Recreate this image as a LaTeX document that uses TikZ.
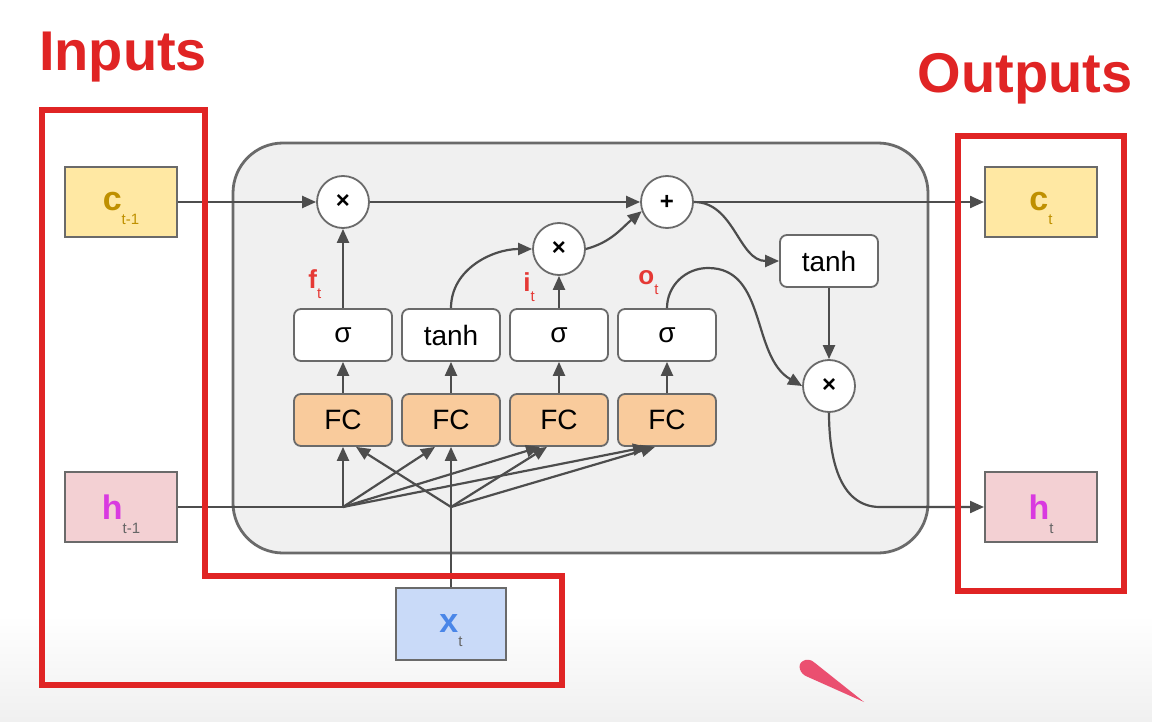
\documentclass[tikz,border=0pt]{standalone}
\usepackage{fontspec}
\setmainfont{Liberation Sans}
\usetikzlibrary{arrows.meta}

\definecolor{markred}{HTML}{E02424}
\definecolor{wiregray}{HTML}{4D4D4D}
\definecolor{edgegray}{HTML}{6A6A6A}
\definecolor{cellgray}{HTML}{F0F0F0}
\definecolor{cyellow}{HTML}{FFE8A3}
\definecolor{hpink}{HTML}{F3D0D3}
\definecolor{xblue}{HTML}{C9DAF8}
\definecolor{fcorange}{HTML}{F9CB9C}
\definecolor{cgold}{HTML}{BF9000}
\definecolor{hmagenta}{HTML}{D93AE0}
\definecolor{xtext}{HTML}{4A86E8}
\definecolor{gatered}{HTML}{E53935}
\definecolor{subgray}{HTML}{666666}
\definecolor{pen}{HTML}{E8264F}

\newcommand\lowsub[2][-5pt]{\raisebox{#1}[0pt][0pt]{\fontsize{7.5}{7.5}\mdseries\selectfont #2}}

\begin{document}
\begin{tikzpicture}[x=0.5pt,y=-0.5pt,
  >={Triangle[length=7pt,width=6pt]},
  wire/.style={draw=wiregray,line width=1.1pt},
  arr/.style={wire,->},
  cellbox/.style={draw=edgegray,line width=1.4pt,fill=cellgray,rounded corners=25pt},
  statebox/.style={draw=edgegray,line width=1pt,minimum width=56pt,minimum height=35pt,inner sep=0pt},
  gatebox/.style={draw=edgegray,line width=0.9pt,fill=white,rounded corners=3.5pt,minimum width=49pt,minimum height=26pt,inner sep=0pt,font=\fontsize{14}{14}\selectfont},
  fcbox/.style={gatebox,fill=fcorange},
  opnode/.style={circle,draw=edgegray,line width=0.9pt,fill=white,minimum size=26pt,inner sep=0pt,font=\bfseries\fontsize{12}{12}\selectfont},
  gatelabel/.style={text=gatered,font=\bfseries\fontsize{13}{13}\selectfont,inner sep=0pt,anchor=base west},
  markbox/.style={draw=markred,line width=3.2pt},
  marktext/.style={text=markred,font=\bfseries\fontsize{28}{28}\selectfont,inner sep=0pt,anchor=base}]
  \useasboundingbox (0,0) rectangle (1152,722);
  \fill[white] (0,0) rectangle (1152,722);
  \shade[top color=white,bottom color=black!6] (0,615) rectangle (1152,722);

  % the cell
  \draw[cellbox] (233,143) rectangle (928,553);

  % gates
  \foreach \i/\x/\f in {1/343/σ,2/451/tanh,3/559/σ,4/667/σ} {
    \node[gatebox] (g\i) at (\x,335) {\f};
    \node[fcbox] (fc\i) at (\x,420) {FC};
    \draw[arr] (fc\i) -- (g\i);
  }
  \node[gatelabel] (flabel) at (308,288) {f\lowsub{t}};
  \node[gatelabel] (ilabel) at (523,292) {i\lowsub{t}};
  \node[gatelabel] (olabel) at (638,285) {o\lowsub{t}};

  \node[opnode] (mulf) at (343,202) {×};
  \node[opnode] (add) at (667,202) {+};
  \node[opnode] (muli) at (559,249) {×};
  \node[opnode] (mulo) at (829,386) {×};
  \node[gatebox] (tanhc) at (829,261) {tanh};

  % states
  \node[statebox,fill=cyellow] (cprev) at (121,202) {{\color{cgold}\bfseries\fontsize{17}{17}\selectfont c}{\color{cgold}\lowsub[-7pt]{t-1}}};
  \node[statebox,fill=hpink] (hprev) at (121,507) {{\color{hmagenta}\bfseries\fontsize{17}{17}\selectfont h}{\color{subgray}\lowsub[-7pt]{t-1}}};
  \node[statebox,fill=cyellow] (cnext) at (1041,202) {{\color{cgold}\bfseries\fontsize{17}{17}\selectfont c}{\color{cgold}\lowsub[-7pt]{t}}};
  \node[statebox,fill=hpink] (hnext) at (1041,507) {{\color{hmagenta}\bfseries\fontsize{17}{17}\selectfont h}{\color{subgray}\lowsub[-7pt]{t}}};
  \node[statebox,fill=xblue,minimum width=55pt,minimum height=36pt] (xt) at (451,624) {{\color{xtext}\bfseries\fontsize{17}{17}\selectfont x}{\color{subgray}\lowsub[-7pt]{t}}};

  % cell state path
  \draw[arr] (cprev.east) -- (mulf.west);
  \draw[arr] (mulf) -- (add);
  \draw[arr] (add) -- (cnext.west);
  \draw[arr] (g1) -- (mulf);
  \draw[arr] (g3) -- (muli);
  \draw[arr] (g2.north) to[out=90,in=180] (muli.west);
  \draw[arr] (muli.east) to[out=15,in=220] (add.200);

  % output path
  \coordinate (hbend) at (880,507);
  \draw[arr] (add.east) to[out=0,in=180] (tanhc.west);
  \draw[arr] (tanhc) -- (mulo);
  \draw[arr] (g4.north) to[out=90,in=180] (708,268) to[out=0,in=150] (mulo.west);
  \draw[arr] (mulo.south) to[out=270,in=180] (hbend) -- (hnext.west);

  % inputs fan out to the FC layers
  \coordinate (hsplit) at (fc1.south |- hprev.east);
  \coordinate (xsplit) at (fc2.south |- hprev.east);
  \draw[wire] (hprev.east) -- (hsplit);
  \draw[wire] (xt.north) -- (xsplit);
  \foreach \i/\a/\b in {1/0/6.5,2/-8/0,3/-9.5/-6,4/-10/-6} {
    \draw[arr] (hsplit) -- ([xshift=\a pt]fc\i.south);
    \draw[arr] (xsplit) -- ([xshift=\b pt]fc\i.south);
  }

  % marks
  \draw[markbox] (42,110) -- (205,110) -- (205,576) -- (562,576) -- (562,685) -- (42,685) -- cycle;
  \draw[markbox] (958,136) rectangle (1124,591);
  \node[marktext] (intext) at (123,71) {Inputs};
  \node[marktext] (outtext) at (1025,93) {Outputs};
  \fill[pen,opacity=0.8] (803,661) .. controls (797,664) and (799,674) .. (808,677) -- (864,702) -- (815,663) .. controls (811,659) and (806,659) .. cycle;
\end{tikzpicture}
\end{document}
